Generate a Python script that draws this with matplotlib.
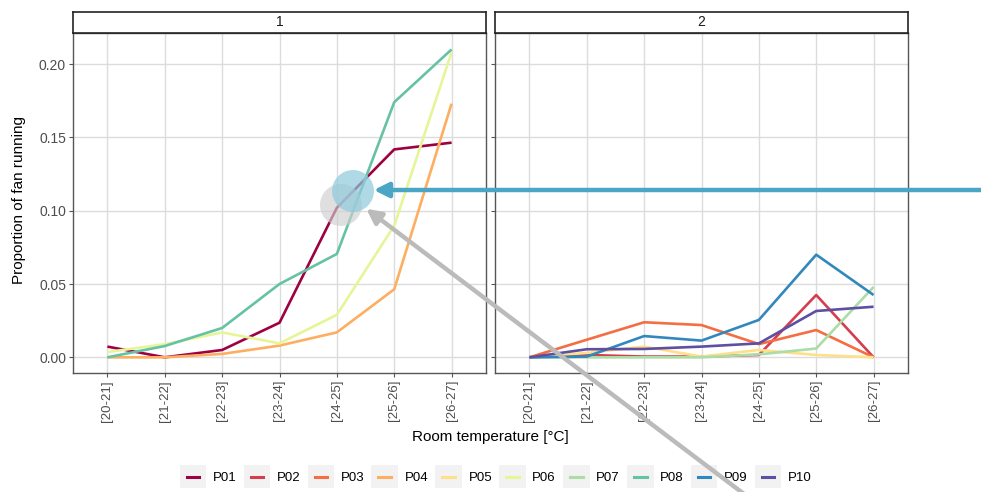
import matplotlib
matplotlib.use("Agg")
import matplotlib.pyplot as plt
from matplotlib.patches import Rectangle, Ellipse, FancyArrowPatch
from matplotlib.lines import Line2D
from matplotlib.legend_handler import HandlerBase

plt.rcParams["font.family"] = ["Liberation Sans", "DejaVu Sans"]

bins = ["[20-21]", "[21-22]", "[22-23]", "[23-24]", "[24-25]", "[25-26]", "[26-27]"]
participants = ["P01", "P02", "P03", "P04", "P05", "P06", "P07", "P08", "P09", "P10"]
colors = ["#9E0142", "#D53E4F", "#F46D43", "#FDAE61", "#FEE08B",
          "#E6F598", "#ABDDA4", "#66C2A5", "#3288BD", "#5E4FA2"]

# panel 1
p01 = [0.0073, 0.0, 0.005, 0.0236, 0.102, 0.1418, 0.1464]
p04 = [0.0, 0.0, 0.0023, 0.008, 0.017, 0.0464, 0.173]
p06 = [0.0036, 0.0089, 0.017, 0.0095, 0.029, 0.0898, 0.208]
p08 = [0.0, 0.0077, 0.020, 0.050, 0.0705, 0.174, 0.210]
# panel 2
p02 = [0.0, 0.0016, 0.0005, 0.0005, 0.0016, 0.0425, 0.0]
p03 = [0.0, 0.012, 0.0239, 0.022, 0.009, 0.0186, 0.0]
p05 = [0.0, 0.003, 0.0073, 0.0005, 0.005, 0.0016, 0.0]
p07 = [0.0, 0.0, 0.0, 0.0, 0.002, 0.006, 0.048]
p09 = [0.0, 0.0005, 0.0145, 0.0114, 0.0255, 0.070, 0.0425]
p10 = [0.0, 0.0055, 0.0057, 0.0073, 0.0095, 0.0316, 0.0345]

panels = {
    "1": {"P01": p01, "P04": p04, "P06": p06, "P08": p08},
    "2": {"P02": p02, "P03": p03, "P05": p05, "P07": p07, "P09": p09, "P10": p10},
}
yticks = [0.0, 0.05, 0.10, 0.15, 0.20]

W, H = 981, 492
fig = plt.figure(figsize=(W / 100, H / 100), dpi=100)


def fx(x):
    return x / W


def fy(y):
    return 1 - y / H


lefts = [73, 495]
pw = 413
top, bottom = 33, 373
xs = list(range(len(bins)))
for i, (name, series) in enumerate(panels.items()):
    ax = fig.add_axes([fx(lefts[i]), fy(bottom), pw / W, (bottom - top) / H])
    for p in participants:
        if p in series:
            ax.plot(xs, series[p], color=colors[participants.index(p)], lw=1.9,
                    solid_capstyle="butt", zorder=3)
    ax.set_xlim(-0.6, 6.6)
    ax.set_ylim(-0.0107, 0.2212)
    ax.set_xticks(xs)
    ax.set_xticklabels(bins, rotation=90, fontsize=9.5, color="#4d4d4d")
    ax.set_yticks(yticks)
    if i == 0:
        ax.set_yticklabels([f"{v:.2f}" for v in yticks], fontsize=10, color="#4d4d4d")
    else:
        ax.set_yticklabels([])
    ax.grid(True, color="#dcdcdc", lw=1.0)
    ax.set_axisbelow(True)
    ax.tick_params(length=3, color="#555555", width=0.8, pad=2)
    for s in ax.spines.values():
        s.set_color("#555555")
        s.set_linewidth(1.0)
    # strip
    sax = fig.add_axes([fx(lefts[i]), fy(top), pw / W, 21 / H])
    sax.set_xticks([])
    sax.set_yticks([])
    for s in sax.spines.values():
        s.set_color("#222222")
        s.set_linewidth(1.2)
    sax.text(0.5, 0.5, name, ha="center", va="center", fontsize=10, color="#1a1a1a",
             transform=sax.transAxes)

fig.text(fx(490), fy(437), "Room temperature [°C]", ha="center", va="center", fontsize=11)
fig.text(fx(19), fy(200), "Proportion of fan running", ha="center", va="center",
         rotation=90, fontsize=11)


class KeyHandler(HandlerBase):
    def create_artists(self, legend, orig_handle, xdescent, ydescent, width, height,
                       fontsize, trans):
        bg = Rectangle((-xdescent - 2, -ydescent - 5), width + 4, height + 10,
                       facecolor="#f2f2f2", edgecolor="none", transform=trans)
        ln = Line2D([-xdescent + 3, -xdescent + width - 3],
                    [height / 2 - ydescent] * 2, color=orig_handle.get_color(),
                    lw=2.2, transform=trans)
        return [bg, ln]


handles = [Line2D([], [], color=c) for c in colors]
fig.legend(handles, participants, handler_map={Line2D: KeyHandler()}, ncol=10,
           loc="center", bbox_to_anchor=(fx(497), fy(478)), frameon=False,
           fontsize=9.5, handlelength=1.6, handletextpad=0.7, columnspacing=0.75)

# highlight circles and arrows
r = 21
fig.add_artist(Ellipse((fx(341), fy(205)), 2 * r / W, 2 * r / H,
                       transform=fig.transFigure, facecolor="#cfcfcf", alpha=0.65,
                       edgecolor="none", zorder=10))
fig.add_artist(Ellipse((fx(353), fy(191)), 2 * r / W, 2 * r / H,
                       transform=fig.transFigure, facecolor="#8fcadc", alpha=0.7,
                       edgecolor="none", zorder=11))
fig.add_artist(FancyArrowPatch((fx(990), fy(190)), (fx(371), fy(190)),
                               transform=fig.transFigure, arrowstyle="-|>",
                               mutation_scale=22, color="#4aa6c4", lw=3.2, zorder=12))
fig.add_artist(FancyArrowPatch((fx(748), fy(497)), (fx(364), fy(207)),
                               transform=fig.transFigure, arrowstyle="-|>",
                               mutation_scale=22, color="#bbbbbb", lw=3.2, zorder=12))

fig.savefig("out.png", dpi=100)
